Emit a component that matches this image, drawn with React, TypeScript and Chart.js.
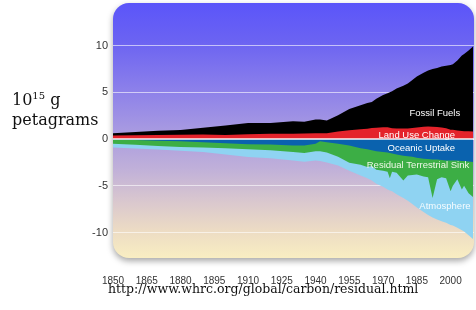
import React, { useEffect, useRef } from 'react';
import { Chart, registerables } from 'chart.js';

Chart.register(...registerables);

// ---- data (Pg C per year) ----
const years = [1850, 1860, 1870, 1880, 1890, 1900, 1910, 1920, 1930, 1935, 1940, 1942, 1945, 1950, 1955, 1960, 1963, 1965, 1967, 1970, 1972, 1973, 1974, 1976, 1979, 1981, 1983, 1985, 1988, 1990, 1992, 1994, 1996, 1998, 2000, 2001, 2003, 2005, 2006, 2008, 2010];
const landUseChange = [0.38, 0.4, 0.42, 0.45, 0.47, 0.44, 0.52, 0.57, 0.57, 0.58, 0.61, 0.62, 0.62, 0.8, 0.95, 1.04, 1.1, 1.18, 1.2, 1.27, 1.25, 1.2, 1.15, 1.13, 1.13, 1.13, 1.18, 1.23, 1.3, 1.35, 1.3, 1.28, 1.23, 1.15, 1.0, 0.98, 0.92, 0.85, 0.84, 0.82, 0.8];
const fossilFuels = [0.23, 0.35, 0.46, 0.52, 0.73, 1.01, 1.18, 1.13, 1.33, 1.27, 1.47, 1.48, 1.36, 1.75, 2.25, 2.56, 2.75, 2.78, 3.1, 3.43, 3.65, 3.8, 3.95, 4.27, 4.57, 4.82, 5.12, 5.47, 5.8, 5.99, 6.2, 6.32, 6.52, 6.7, 6.93, 7.02, 7.48, 8.09, 8.26, 8.65, 9.1];
const oceanicUptake = [-0.05, -0.1, -0.18, -0.25, -0.35, -0.45, -0.55, -0.6, -0.7, -0.7, -0.5, -0.25, -0.35, -0.5, -0.7, -1.0, -1.1, -1.2, -1.3, -1.4, -1.45, -1.5, -1.55, -1.65, -1.8, -1.85, -1.9, -2.0, -2.1, -2.15, -2.2, -2.2, -2.25, -2.3, -2.3, -2.3, -2.3, -2.35, -2.35, -2.4, -2.45];
const residualTerrestrialSink = [-0.46, -0.52, -0.57, -0.6, -0.57, -0.54, -0.55, -0.6, -0.7, -0.8, -0.8, -1.05, -1.1, -1.4, -1.85, -1.75, -1.9, -1.7, -2.0, -2.0, -2.05, -2.7, -1.95, -1.95, -2.65, -2.05, -1.95, -1.8, -1.9, -1.95, -4.1, -2.1, -1.85, -1.9, -3.3, -2.7, -2.0, -3.05, -2.65, -3.4, -3.75];
const atmosphere = [-0.4, -0.4, -0.37, -0.4, -0.48, -0.66, -0.83, -0.85, -0.9, -0.94, -1.0, -1.05, -1.05, -0.94, -0.85, -1.15, -1.2, -1.55, -1.5, -1.72, -1.9, -1.3, -2.1, -2.3, -1.85, -2.7, -3.1, -3.53, -3.8, -4.04, -2.1, -4.3, -4.7, -4.75, -3.59, -4.25, -5.2, -4.37, -4.9, -4.5, -4.5];

const xTicks = [1850, 1865, 1880, 1895, 1910, 1925, 1940, 1955, 1970, 1985, 2000];
const yTicks = [-10, -5, 0, 5, 10];

const seriesNames = ['Land Use Change', 'Fossil Fuels', 'Oceanic Uptake', 'Residual Terrestrial Sink', 'Atmosphere'];
const seriesColors = ['#e4232b', '#000000', '#0a62ae', '#3cae45', '#8fd3f2'];

// label anchors (in data units)
const labelYears = [1993, 1985, 1987, 1985.5, 1997.5];
const labelValues = [2.75, 0.4, -0.95, -2.85, -7.2];
const labelColors = ['#ffffff', '#ffffff', '#ffffff', '#eef7e6', 'rgba(255,255,255,0.92)'];
const labelOrder = ['Fossil Fuels', 'Land Use Change', 'Oceanic Uptake', 'Residual Terrestrial Sink', 'Atmosphere'];

function cumulative(...arrs: number[][]) {
  return years.map((yr, i) => ({ x: yr, y: arrs.reduce((s, a) => s + a[i], 0) }));
}

const panelPlugin = {
  id: 'panel',
  beforeDraw(chart: any) {
    const { ctx, chartArea: a } = chart;
    ctx.save();
    const g = ctx.createLinearGradient(0, a.top, 0, a.bottom);
    g.addColorStop(0, '#5b55fa');
    g.addColorStop(0.15, '#6b63f2');
    g.addColorStop(0.34, '#8c80ea');
    g.addColorStop(0.52, '#ab9de0');
    g.addColorStop(0.65, '#c0b0d9');
    g.addColorStop(0.77, '#d8c6cf');
    g.addColorStop(0.89, '#ecdbc4');
    g.addColorStop(1, '#f9eec2');
    ctx.shadowColor = 'rgba(0,0,0,0.35)';
    ctx.shadowBlur = 6;
    ctx.shadowOffsetY = 3;
    ctx.beginPath();
    ctx.roundRect(a.left, a.top, a.right - a.left, a.bottom - a.top, 16);
    ctx.fillStyle = g;
    ctx.fill();
    ctx.restore();
  },
  afterDatasetsDraw(chart: any) {
    const { ctx, chartArea: a, scales } = chart;
    const y0 = scales.y.getPixelForValue(0);
    ctx.save();
    ctx.strokeStyle = 'rgba(255,255,255,0.95)';
    ctx.lineWidth = 1.5;
    ctx.beginPath();
    ctx.moveTo(a.left, y0);
    ctx.lineTo(a.right, y0);
    ctx.stroke();
    ctx.font = '9.5px "Liberation Sans", Arial, sans-serif';
    ctx.textAlign = 'center';
    ctx.textBaseline = 'middle';
    labelOrder.forEach((t, i) => {
      ctx.fillStyle = labelColors[i];
      ctx.fillText(t, scales.x.getPixelForValue(labelYears[i]), scales.y.getPixelForValue(labelValues[i]));
    });
    ctx.restore();
  },
};

export default function App() {
  const ref = useRef<HTMLCanvasElement>(null);
  useEffect(() => {
    const series = [
      cumulative(landUseChange),
      cumulative(landUseChange, fossilFuels),
      cumulative(oceanicUptake),
      cumulative(oceanicUptake, residualTerrestrialSink),
      cumulative(oceanicUptake, residualTerrestrialSink, atmosphere),
    ];
    const chart = new Chart(ref.current!, {
      type: 'line',
      data: {
        datasets: series.map((d, i) => ({
          label: seriesNames[i],
          data: d,
          backgroundColor: seriesColors[i],
          borderColor: seriesColors[i],
          borderWidth: 0,
          pointRadius: 0,
          fill: 'origin',
          tension: 0,
        })),
      },
      options: {
        animation: false,
        responsive: false,
        devicePixelRatio: 1,
        layout: { padding: { left: 0, right: 2, top: 3, bottom: 0 } },
        plugins: { legend: { display: false }, tooltip: { enabled: false } },
        scales: {
          x: {
            type: 'linear',
            min: 1850,
            max: 2010.4,
            afterFit: (s: any) => { s.height = 52; s.paddingLeft = 0; s.paddingRight = 0; },
            afterBuildTicks: (s: any) => { s.ticks = xTicks.map((v) => ({ value: v })); },
            grid: { display: false, drawTicks: false },
            border: { display: false },
            ticks: {
              padding: 17,
              maxRotation: 0,
              autoSkip: false,
              color: '#333',
              font: { family: '"Liberation Sans", Arial, sans-serif', size: 10 },
              callback: (v: any) => String(v),
            },
          },
          y: {
            min: -12.73,
            max: 14.55,
            afterFit: (s: any) => { s.width = 113; s.paddingTop = 0; s.paddingBottom = 0; },
            afterBuildTicks: (s: any) => { s.ticks = yTicks.map((v) => ({ value: v })); },
            grid: { color: 'rgba(255,255,255,0.6)', lineWidth: 1, drawTicks: false },
            border: { display: false },
            ticks: {
              padding: 5,
              color: '#333',
              font: { family: '"Liberation Sans", Arial, sans-serif', size: 11 },
              callback: (v: any) => String(v),
            },
          },
        },
      },
      plugins: [panelPlugin],
    });
    return () => chart.destroy();
  }, []);

  return (
    <div style={{ position: 'fixed', left: 0, top: 0, width: 476, height: 310, background: '#fff' }}>
      <canvas ref={ref} width={476} height={310} style={{ display: 'block' }} />
      <div style={{ position: 'absolute', left: 12, top: 90, fontFamily: '"DejaVu Serif", serif', fontSize: 16, lineHeight: '20px', color: '#111', whiteSpace: 'nowrap' }}>
        <div>10<sup style={{ fontSize: 10, lineHeight: 0, verticalAlign: 6 }}>15</sup> g</div>
        <div>petagrams</div>
      </div>
      <div style={{ position: 'absolute', left: 108, top: 281, fontFamily: '"DejaVu Serif", serif', fontSize: 12.5, lineHeight: '15px', color: '#111', whiteSpace: 'nowrap' }}>
        http://www.whrc.org/global/carbon/residual.html
      </div>
    </div>
  );
}
